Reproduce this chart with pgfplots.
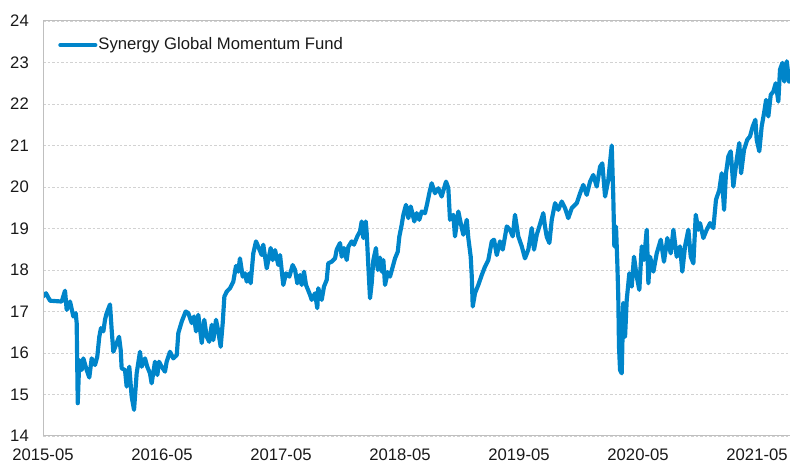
\documentclass[border=0pt]{standalone}
\usepackage{fontspec}
\setmainfont{Liberation Sans}
\usepackage{pgfplots}
\pgfplotsset{compat=1.18}
\definecolor{fund}{RGB}{0,133,202}
\definecolor{gridc}{RGB}{210,210,210}
\definecolor{framec}{RGB}{191,191,191}
\pgfplotstableread{
t v
0 17.36
0.025 17.44
0.059 17.26
0.157 17.24
0.185 17.50
0.199 17.04
0.227 17.24
0.255 16.88
0.275 16.96
0.283 16.72
0.292 14.79
0.305 15.83
0.325 15.59
0.339 15.87
0.367 15.59
0.389 15.41
0.409 15.87
0.437 15.71
0.456 15.91
0.473 16.39
0.487 16.60
0.507 16.52
0.521 16.80
0.535 16.96
0.563 17.17
0.577 16.56
0.591 16.03
0.619 16.24
0.639 16.39
0.653 16.07
0.661 15.63
0.689 15.59
0.703 15.19
0.725 15.67
0.745 14.95
0.765 14.63
0.787 15.51
0.815 16.03
0.829 15.67
0.857 15.87
0.876 15.67
0.899 15.51
0.913 15.27
0.941 15.79
0.961 15.47
0.975 15.79
0.997 15.67
1.025 15.55
1.039 15.79
1.067 16.03
1.095 15.87
1.124 15.95
1.137 16.48
1.166 16.76
1.199 17.00
1.221 16.96
1.250 16.72
1.269 16.88
1.286 16.52
1.305 16.92
1.334 16.24
1.355 16.80
1.376 16.39
1.397 16.27
1.418 16.68
1.431 16.31
1.454 16.80
1.473 16.52
1.493 16.15
1.510 16.72
1.524 17.36
1.544 17.48
1.571 17.56
1.599 17.72
1.622 18.10
1.641 17.96
1.655 18.28
1.678 17.84
1.697 17.92
1.712 17.72
1.734 17.92
1.745 17.68
1.767 18.40
1.790 18.69
1.809 18.56
1.838 18.36
1.851 18.61
1.880 18.04
1.913 18.53
1.930 18.24
1.950 18.48
1.977 18.12
1.992 18.36
2.019 17.64
2.042 17.92
2.070 17.84
2.098 18.12
2.118 18.00
2.137 17.68
2.160 17.88
2.174 17.64
2.193 17.96
2.210 17.64
2.244 17.40
2.258 17.28
2.286 17.44
2.305 17.08
2.313 17.56
2.342 17.28
2.361 17.60
2.384 17.76
2.397 18.16
2.426 18.20
2.454 18.28
2.468 18.49
2.496 18.65
2.510 18.32
2.529 18.53
2.552 18.24
2.566 18.56
2.594 18.69
2.613 18.61
2.641 18.81
2.664 18.93
2.678 19.17
2.692 18.77
2.712 19.17
2.720 18.89
2.734 18.08
2.748 17.32
2.762 17.68
2.776 18.24
2.798 18.53
2.813 18.00
2.832 18.30
2.846 17.96
2.860 18.24
2.874 17.64
2.897 17.95
2.916 17.84
2.939 18.08
2.958 18.28
2.981 18.44
2.994 18.80
3.014 19.09
3.028 19.33
3.050 19.57
3.070 19.25
3.090 19.53
3.107 19.33
3.120 19.17
3.140 19.37
3.162 19.21
3.182 19.41
3.210 19.37
3.229 19.61
3.246 19.85
3.266 20.09
3.294 19.85
3.322 19.97
3.350 19.77
3.370 19.97
3.387 20.13
3.406 19.97
3.420 19.21
3.448 19.33
3.462 18.81
3.490 19.41
3.510 19.13
3.532 18.85
3.561 19.21
3.574 18.77
3.594 18.32
3.603 17.84
3.611 17.12
3.630 17.44
3.658 17.64
3.687 17.88
3.714 18.08
3.742 18.24
3.771 18.69
3.790 18.73
3.813 18.36
3.840 18.69
3.863 18.49
3.897 19.05
3.924 18.97
3.947 18.81
3.966 19.33
3.994 18.81
4.023 18.57
4.050 18.28
4.078 18.49
4.107 19.01
4.126 18.49
4.149 18.85
4.176 19.10
4.204 19.37
4.218 19.05
4.233 18.80
4.255 18.65
4.275 19.21
4.303 19.61
4.330 19.45
4.359 19.65
4.387 19.49
4.414 19.25
4.443 19.49
4.485 19.61
4.513 19.85
4.540 20.05
4.569 19.81
4.597 20.13
4.624 20.29
4.653 20.01
4.681 20.49
4.700 20.57
4.723 19.77
4.750 20.17
4.779 21.00
4.792 19.77
4.801 18.57
4.815 19.05
4.826 18.16
4.834 17.36
4.840 16.15
4.849 15.59
4.863 15.51
4.871 16.56
4.876 17.20
4.891 16.39
4.905 17.28
4.927 17.92
4.947 17.60
4.966 18.32
4.989 17.84
5.011 17.52
5.031 18.57
5.050 18.24
5.073 18.97
5.087 17.68
5.101 18.32
5.129 17.96
5.157 18.40
5.191 18.73
5.218 18.20
5.246 18.77
5.275 18.40
5.297 18.97
5.325 18.32
5.353 18.57
5.372 17.96
5.395 18.57
5.423 18.97
5.443 18.32
5.465 18.16
5.485 19.33
5.507 18.97
5.521 19.13
5.549 18.77
5.577 18.97
5.605 19.13
5.633 19.01
5.655 19.69
5.683 19.93
5.703 20.33
5.723 19.45
5.739 20.33
5.759 20.74
5.779 20.86
5.801 20.01
5.829 20.66
5.851 21.06
5.866 20.33
5.891 20.90
5.918 21.14
5.941 21.22
5.964 21.46
5.986 21.62
5.997 21.14
6.019 20.86
6.039 21.46
6.059 21.78
6.076 22.10
6.095 21.70
6.115 22.22
6.137 22.30
6.157 22.50
6.179 22.06
6.193 22.83
6.213 22.99
6.229 22.54
6.250 23.03
6.269 22.54
}\fund
\begin{document}
\begin{tikzpicture}
\useasboundingbox (-25.8pt,-16.8pt) rectangle (448.2pt,261.6pt);
\begin{axis}[
  at={(0pt,0pt)}, anchor=south west,
  scale only axis, width=448.2pt, height=249pt,
  xmin=0, xmax=6.277, ymin=14, ymax=24,
  xtick={0,1,2,3,4,5,6},
  xticklabels={2015-05,2016-05,2017-05,2018-05,2019-05,2020-05,2021-05},
  ytick={14,15,...,24},
  major tick length=0pt,
  axis line style={draw=none},
  ymajorgrids,
  grid style={gridc, dash pattern=on 1.5pt off 1.2pt, line width=0.5pt},
  tick label style={font=\fontsize{10}{12}\selectfont, text=black!90},
  /pgf/number format/assume math mode=true,
  yticklabel style={xshift=-5pt},
  xticklabel style={yshift=-4pt},
  legend style={at={(axis description cs:0.020,0.942)}, anchor=west,
    draw=none, fill=none, inner sep=0pt,
    nodes={inner xsep=0.6pt},
    font=\fontsize{10}{12}\selectfont, text=black!90},
  legend image code/.code={\draw[#1] (0pt,0pt) -- (21pt,0pt);},
]
\addplot[fund, line width=2.5pt, line join=round, line cap=round] table[x=t, y=v] {\fund};
\addlegendentry{Synergy Global Momentum Fund}
\end{axis}
\draw[framec, line width=0.6pt] (current axis.north east) -- (current axis.north west) -- (current axis.south west) -- (current axis.south east);
\end{tikzpicture}
\end{document}
